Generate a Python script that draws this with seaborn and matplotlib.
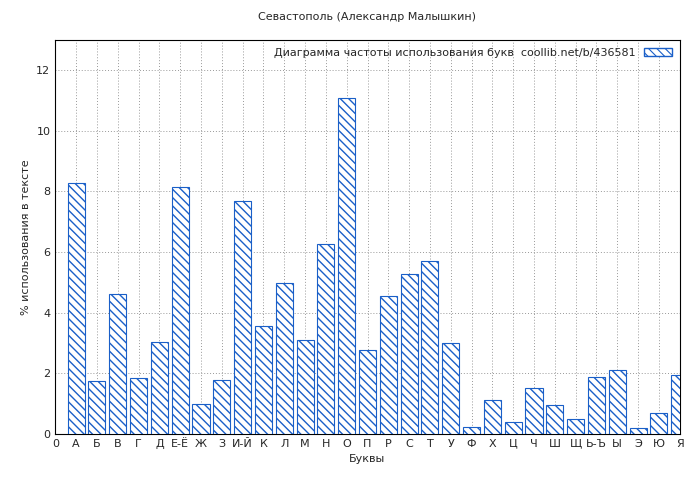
import matplotlib
matplotlib.use("Agg")
import matplotlib.pyplot as plt
import seaborn as sns
import pandas as pd
from matplotlib.patches import Patch

letters = ["А","Б","В","Г","Д","Е-Ё","Ж","З","И-Й","К","Л","М","Н","О","П","Р","С","Т","У","Ф","Х","Ц","Ч","Ш","Щ","Ь-Ъ","Ы","Э","Ю","Я"]
values = [8.29,1.74,4.6,1.84,3.03,8.16,0.99,1.78,7.7,3.55,4.97,3.09,6.28,11.09,2.76,4.54,5.26,5.69,2.99,0.23,1.12,0.39,1.51,0.95,0.49,1.88,2.1,0.2,0.69,1.94]
positions = list(range(1, len(letters) + 1))

sns.set_style("white")
plt.rcParams['font.family'] = ['DejaVu Sans']
plt.rcParams['font.size'] = 8
fig, ax = plt.subplots(figsize=(7, 4.8), dpi=100)
fig.subplots_adjust(left=0.079, right=0.971, top=0.917, bottom=0.096)

df = pd.DataFrame({"x": positions, "y": values})
sns.barplot(data=df, x="x", y="y", native_scale=True, width=0.82, ax=ax,
            color="white", edgecolor="#1a5fc8", linewidth=0.8, zorder=3)
for p in ax.patches:
    p.set_hatch("\\\\\\\\")
    p.set_facecolor("white")
plt.rcParams['hatch.color'] = "#1a5fc8"
plt.rcParams['hatch.linewidth'] = 0.8

ax.set_xlim(0, 29)
ax.set_ylim(0, 13)
ax.set_xticks([0] + positions)
ax.set_xticklabels(["0"] + letters)
ax.set_yticks(range(0, 13, 2))
ax.grid(True, linestyle=(0, (1, 2)), color="#999999", linewidth=0.7, zorder=0)
for s in ax.spines.values():
    s.set_color("black"); s.set_linewidth(0.8)
ax.tick_params(direction="in", length=3, labelsize=8)
ax.set_xlabel("Буквы", fontsize=8)
ax.set_ylabel("% использования в тексте", fontsize=8)
ax.set_title("Севастополь (Александр Малышкин)", fontsize=8, pad=14)
h = Patch(facecolor="white", edgecolor="#1a5fc8", hatch="\\\\\\\\")
ax.legend([h], ["Диаграмма частоты использования букв  coollib.net/b/436581"],
          loc="upper right", frameon=False, fontsize=8, markerfirst=False,
          handlelength=2.5, borderaxespad=0.3)
fig.savefig("out.png", dpi=100)
